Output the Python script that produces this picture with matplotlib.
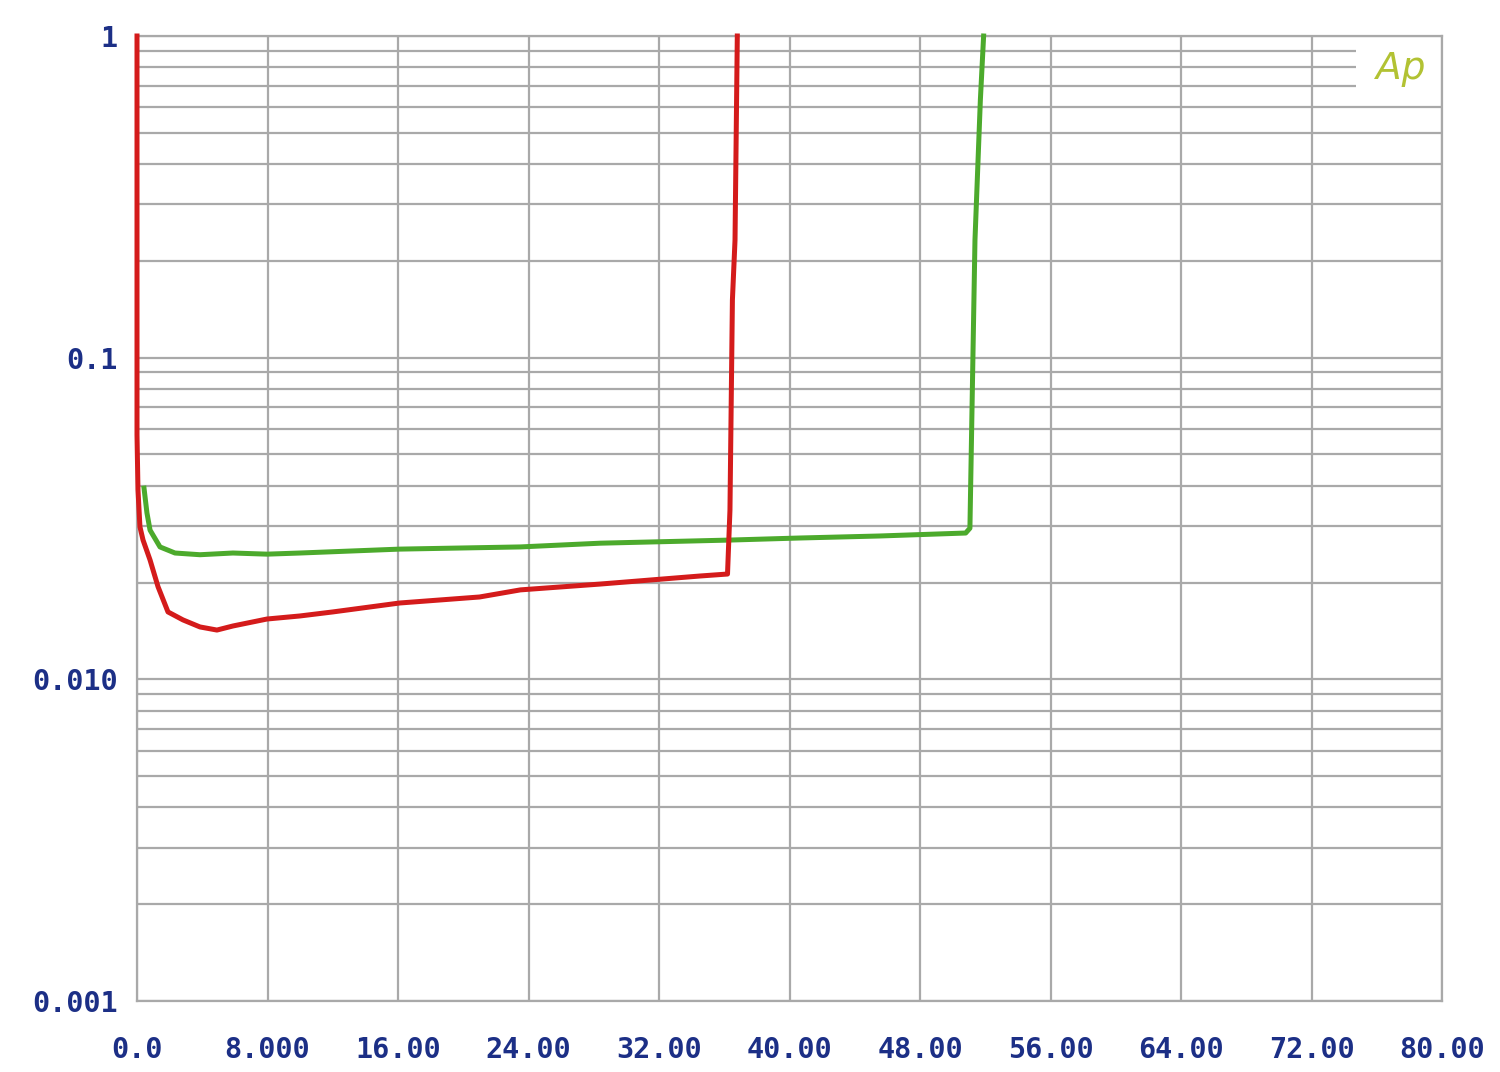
import numpy as np
import matplotlib.pyplot as plt

# Red trace (x, level)
red_x = [0, 0, 0.06, 0.18, 0.37, 0.8, 1.29, 1.9, 2.82, 3.86, 4.9, 5.88, 7.97,
         9.99, 12.0, 16.1, 21.0, 23.5, 28.4, 34.5, 36.2, 36.35, 36.5, 36.66, 36.8]
red_y = [1.0, 0.0575, 0.0388, 0.0298, 0.0271, 0.0235, 0.0194, 0.0162, 0.0153,
         0.01455, 0.01423, 0.01465, 0.0154, 0.01574, 0.0162, 0.01727, 0.01803,
         0.01897, 0.01978, 0.02095, 0.02125, 0.0336, 0.151, 0.232, 1.0]

# Green trace
green_x = [0.43, 0.61, 0.8, 1.41, 2.33, 3.86, 5.88, 7.97, 9.99, 16.1, 23.5,
           28.4, 36.35, 40.6, 45.5, 50.8, 51.06, 51.37, 51.7, 51.9]
green_y = [0.0393, 0.0329, 0.0291, 0.0258, 0.0247, 0.0244, 0.0247, 0.0245,
           0.0247, 0.0254, 0.0258, 0.0265, 0.0271, 0.0275, 0.0279, 0.0285,
           0.0295, 0.232, 0.632, 1.0]

x_ticks = [0, 8, 16, 24, 32, 40, 48, 56, 64, 72, 80]
x_labels = ["0.0", "8.000", "16.00", "24.00", "32.00", "40.00", "48.00",
            "56.00", "64.00", "72.00", "80.00"]
y_ticks = [0.001, 0.01, 0.1, 1]
y_labels = ["0.001", "0.010", "0.1", "1"]

grid_col = "#a9a9a9"
label_col = "#1c2f86"

fig = plt.figure(figsize=(15, 10.72), dpi=100)
ax = fig.add_axes([137 / 1500, 71 / 1072, 1305 / 1500, 965 / 1072])
ax.set_yscale("log")
ax.set_xlim(0, 80)
ax.set_ylim(0.001, 1)

# grid drawn by hand so the lines beside the logo can stop short
for xv in x_ticks:
    ax.axvline(xv, color=grid_col, lw=1.6, zorder=1)
for dec in [0.001, 0.01, 0.1]:
    for m in range(1, 10):
        yv = dec * m
        xmax = 74.7 if yv > 0.65 else 80
        ax.hlines(yv, 0, xmax, color=grid_col, lw=1.6, zorder=1)
ax.axhline(1, color=grid_col, lw=1.6, zorder=1)

ax.plot(green_x, green_y, color="#4caa2c", lw=3.6, solid_joinstyle="round",
        zorder=3, clip_on=False)
ax.plot(red_x, red_y, color="#d41b1b", lw=3.6, solid_joinstyle="round",
        zorder=4, clip_on=False)

ax.set_xticks(x_ticks)
ax.set_xticklabels(x_labels)
ax.set_yticks(y_ticks)
ax.set_yticklabels(y_labels)
ax.minorticks_off()
ax.tick_params(length=0, labelsize=20.5, labelcolor=label_col)
ax.tick_params(axis="x", pad=25)
ax.tick_params(axis="y", pad=14)
for lab in ax.get_xticklabels() + ax.get_yticklabels():
    lab.set_family("DejaVu Sans Mono")
    lab.set_fontweight("bold")

for s in ax.spines.values():
    s.set_color(grid_col)
    s.set_linewidth(1.6)

ax.text(0.968, 0.966, "Ap", transform=ax.transAxes, ha="center", va="center",
        fontsize=27, style="italic", color="#b2c233", family="DejaVu Sans")

fig.savefig("out.png", dpi=100)
